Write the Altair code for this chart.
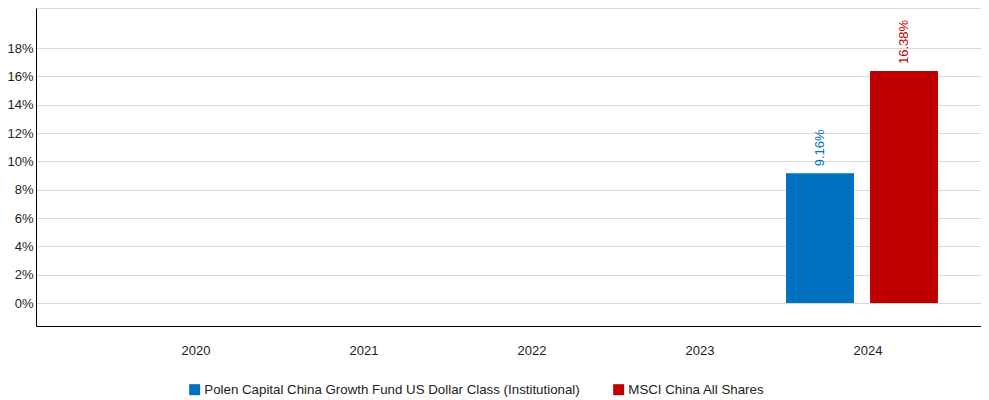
import altair as alt
import pandas as pd

years = ["2020", "2021", "2022", "2023", "2024"]
series = ["Polen Capital China Growth Fund US Dollar Class (Institutional)", "MSCI China All Shares"]
colors = ["#0070C0", "#C00000"]
data_years = ["2024", "2024"]
data_series = series
data_values = [9.16, 16.38]
y_ticks = [0, 2, 4, 6, 8, 10, 12, 14, 16, 18]

df = pd.DataFrame({"year": data_years, "series": data_series, "value": data_values})
df["label"] = [f"{v:.2f}%" for v in df["value"]]

FONT = "Liberation Sans"

x = alt.X(
    "year:N",
    scale=alt.Scale(domain=years, paddingInner=0, paddingOuter=0.3125, align=0.7238),
    axis=alt.Axis(title=None, labelAngle=0, ticks=False, domainColor="#000000", domainWidth=1,
                  labelPadding=18, labelFontSize=13, labelColor="#222222", grid=False),
)
xo = alt.XOffset(
    "series:N",
    scale=alt.Scale(domain=series, range=[2, 154], paddingInner=0.1905, paddingOuter=0),
)
y = alt.Y(
    "value:Q",
    scale=alt.Scale(domain=[-1.62, 20.83], nice=False, zero=False),
    axis=alt.Axis(title=None, values=y_ticks, labelExpr="datum.value + '%'", ticks=False,
                  grid=True, gridColor="#d9d9d9", domainColor="#000000", domainWidth=1,
                  labelPadding=3, labelFontSize=13, labelColor="#222222"),
)
color_scale = alt.Scale(domain=series, range=colors)

bars = alt.Chart(df).mark_bar().encode(
    x=x,
    xOffset=xo,
    y=y,
    y2=alt.datum(0),
    color=alt.Color(
        "series:N",
        scale=color_scale,
        legend=alt.Legend(title=None, orient="none", legendX=152, legendY=375, direction="horizontal",
                          symbolType="square", symbolSize=121, symbolStrokeWidth=0,
                          labelFontSize=13.3, labelOffset=3, columnPadding=32, labelLimit=600,
                          labelColor="#222222"),
    ),
)

labels = alt.Chart(df).mark_text(angle=270, align="left", baseline="middle", dx=7, fontSize=13).encode(
    x=x,
    xOffset=xo,
    y=y,
    text="label:N",
    color=alt.Color("series:N", scale=color_scale, legend=None),
)

chart = alt.layer(bars, labels).properties(
    width=945,
    height=318,
    autosize=alt.AutoSizeParams(type="none"),
    padding={"left": 28, "top": 0, "right": 0, "bottom": 72},
).configure_view(stroke=None).configure(font=FONT)

chart.save("out.html", embed_options={"renderer": "svg", "actions": False})
